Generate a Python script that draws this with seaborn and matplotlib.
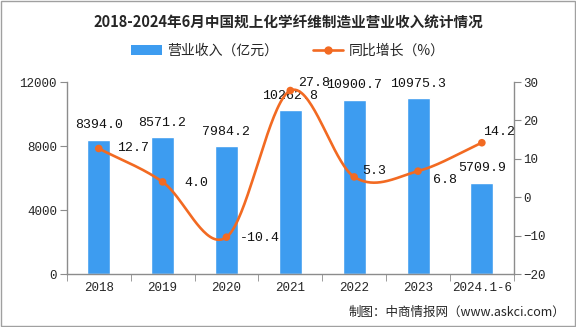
import numpy as np
import pandas as pd
import matplotlib
matplotlib.use("Agg")
import matplotlib.pyplot as plt
import seaborn as sns
from matplotlib.lines import Line2D
from matplotlib.patches import Patch

categories = ["2018", "2019", "2020", "2021", "2022", "2023", "2024.1-6"]
revenue = [8394.0, 8571.2, 7984.2, 10262.8, 10900.7, 10975.3, 5709.9]
growth = [12.7, 4.0, -10.4, 27.8, 5.3, 6.8, 14.2]
left_ticks = [0, 4000, 8000, 12000]
right_ticks = [-20, -10, 0, 10, 20, 30]

BLUE = "#3D9CF0"
ORANGE = "#F26A22"
GRAY = "#8C8C8C"
NUM = ["Liberation Mono", "DejaVu Sans Mono"]

sns.set_style("white")
plt.rcParams["font.family"] = ["Noto Sans CJK SC", "DejaVu Sans"]

fig = plt.figure(figsize=(5.76, 3.27), dpi=100)
ax = fig.add_axes([0.116, 0.162, 0.776, 0.587])

df = pd.DataFrame({"cat": categories, "rev": revenue})
sns.barplot(data=df, x="cat", y="rev", color=BLUE, width=0.36, saturation=1, ax=ax)
ax.set_xlim(-0.5, len(categories) - 0.5)
ax.set_ylim(0, 12000)
ax.set_yticks(left_ticks)
ax.set_xlabel("")
ax.set_ylabel("")

# bar labels
for i, v in enumerate(revenue):
    ax.annotate(f"{v:.1f}", (i, v), xytext=(0, 6), textcoords="offset points",
                ha="center", va="bottom", fontsize=9.5, color="#111111", family=NUM)

ax2 = ax.twinx()
ax2.set_ylim(-20, 30)
ax2.set_yticks(right_ticks)

# smooth line (Catmull-Rom through the data points)
xs = np.arange(len(growth), dtype=float)
ys = np.array(growth, dtype=float)
px = np.concatenate([[2 * xs[0] - xs[1]], xs, [2 * xs[-1] - xs[-2]]])
py = np.concatenate([[2 * ys[0] - ys[1]], ys, [2 * ys[-1] - ys[-2]]])
sx, sy = [], []
t = np.linspace(0, 1, 40)
for k in range(1, len(px) - 2):
    p0, p1, p2, p3 = [np.array([px[j], py[j]]) for j in range(k - 1, k + 3)]
    for tt in t:
        pt = 0.5 * ((2 * p1) + (-p0 + p2) * tt + (2 * p0 - 5 * p1 + 4 * p2 - p3) * tt ** 2
                    + (-p0 + 3 * p1 - 3 * p2 + p3) * tt ** 3)
        sx.append(pt[0]); sy.append(pt[1])
sns.lineplot(x=sx, y=sy, ax=ax2, color=ORANGE, linewidth=1.9, sort=False)
sns.scatterplot(x=xs, y=ys, ax=ax2, color=ORANGE, s=30, edgecolor="none", zorder=5)

# label offsets in pixels (dx, dy up)
offsets = [(18, 0), (22, -1), (13, -1), (8, 8), (8, 6), (15, -9), (1, 11)]
for i, v in enumerate(growth):
    dx, dy = offsets[i]
    ax2.annotate(f"{v:.1f}", (i, v), xytext=(dx * 0.72, dy * 0.72), textcoords="offset points",
                 ha="left", va="center", fontsize=9.5, color="#111111", family=NUM)

for a in (ax, ax2):
    a.spines["top"].set_visible(False)
    for s in ["left", "right", "bottom"]:
        a.spines[s].set_color(GRAY)
        a.spines[s].set_linewidth(1)
ax.spines["right"].set_visible(False)
ax2.spines["left"].set_visible(False)
ax2.spines["bottom"].set_visible(False)

ax.tick_params(axis="y", which="both", left=True, length=5, color=GRAY, labelsize=9, pad=2)
ax2.tick_params(axis="y", which="both", right=True, length=5, color=GRAY, labelsize=9, pad=2)
ax.set_xticks(range(len(categories)))
ax.set_xticklabels(categories)
ax.tick_params(axis="x", length=0, labelsize=9, pad=6)
ax.set_xticks(np.arange(-0.5, len(categories), 1.0), minor=True)
ax.tick_params(axis="x", which="minor", bottom=True, length=5, color=GRAY)
for lab in ax.get_xticklabels() + ax.get_yticklabels() + ax2.get_yticklabels():
    lab.set_family(NUM)

fig.text(0.5, 0.935, "2018-2024年6月中国规上化学纤维制造业营业收入统计情况",
         ha="center", va="center", fontsize=10.5, fontweight="bold")

handles = [Patch(facecolor=BLUE, edgecolor="none"),
           Line2D([0], [0], color=ORANGE, linewidth=1.9, marker="o", markersize=5)]
fig.legend(handles, ["营业收入（亿元）", "同比增长（%）"], loc="center",
           bbox_to_anchor=(0.5, 0.845), ncol=2, frameon=False, fontsize=10,
           handlelength=2.2, columnspacing=2.5, handletextpad=0.4)

fig.text(0.793, 0.045, "制图：中商情报网（www.askci.com）", ha="center", va="center", fontsize=9)

fig.patches.append(plt.Rectangle((0.001, 0.002), 0.997, 0.995, transform=fig.transFigure,
                                 fill=False, edgecolor="#A0A0A0", linewidth=1))

fig.savefig("out.png", dpi=100)
